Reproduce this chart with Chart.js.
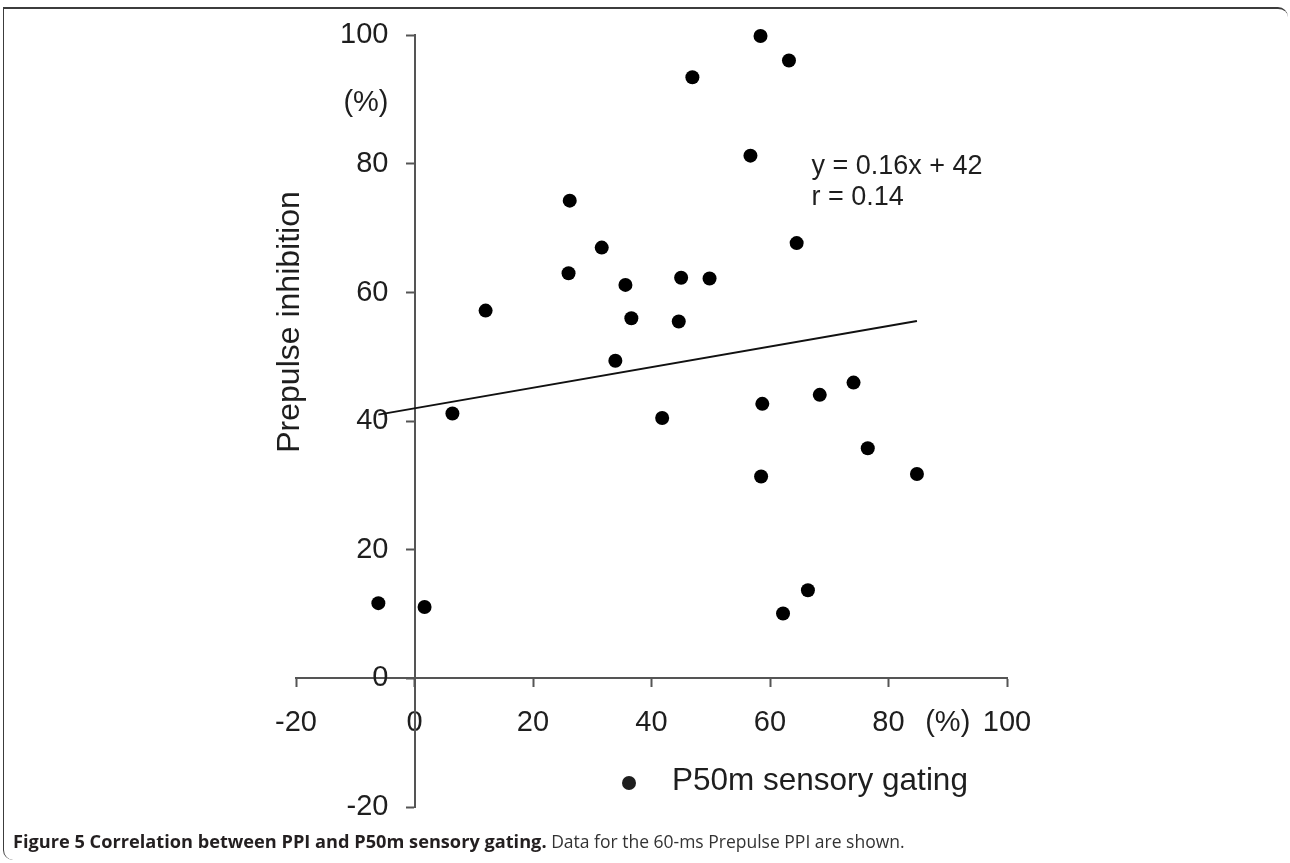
<!DOCTYPE html>
<html>
<head>
<meta charset="utf-8">
<title>PPI vs P50m sensory gating</title>
<script src="https://cdn.jsdelivr.net/npm/chart.js@4.4.1/dist/chart.umd.min.js"></script>
<style>
    html, body { margin: 0; padding: 0; background: #fff; }
    #wrap { position: relative; width: 1290px; height: 863px; overflow: hidden; }
    #frame {
        position: absolute; left: 3px; top: 7px; width: 1285px; height: 853px;
        box-sizing: border-box;
        border-top: 2px solid #3c3c3c; border-left: 1.5px solid #3c3c3c;
        border-top-right-radius: 10px; border-bottom-left-radius: 10px;
    }
    #chart-box { position: absolute; left: 0; top: 0; width: 1290px; height: 863px; }
    #caption {
        position: absolute; left: 13px; top: 829px; white-space: nowrap;
        font-family: "Open Sans", "Noto Sans", sans-serif; font-size: 17.5px; color: #333;
    }
    #caption b { font-weight: 700; font-size: 18.2px; color: #231f20; }
</style>
</head>
<body>
<div id="wrap">
    <div id="frame"></div>
    <div id="chart-box"><canvas id="ppi-chart"></canvas></div>
    <div id="caption"><b>Figure 5 Correlation between PPI and P50m sensory gating.</b> Data for the 60-ms Prepulse PPI are shown.</div>
</div>
<script>
// ===== DATA =====
const gatingX = [-6.1, 1.7, 6.4, 12.0, 26.2, 26.0, 31.6, 35.6, 36.6, 33.9, 41.8, 45.0, 44.6, 49.8,
    46.9, 58.4, 63.2, 56.7, 64.5, 58.7, 58.5, 62.2, 66.4, 68.4, 74.1, 76.5, 84.8];
const ppiY = [11.7, 11.1, 41.2, 57.2, 74.3, 63.0, 67.0, 61.2, 56.0, 49.4, 40.5, 62.3, 55.5, 62.2,
    93.5, 99.9, 96.1, 81.3, 67.7, 42.7, 31.4, 10.1, 13.7, 44.1, 46.0, 35.8, 31.8];
const xTicks = [-20, 0, 20, 40, 60, 80, 100];
const yTicks = [-20, 0, 20, 40, 60, 80, 100];
const unitLabel = '(%)';
const xUnitAt = 90;     // where the "(%)" sits on the x axis
const yUnitAt = 89.5;   // where the "(%)" sits on the y axis
const fitSlope = 0.16;
const fitIntercept = 42;
const fitR = 0.14;
const seriesName = 'P50m sensory gating';
const yTitle = 'Prepulse inhibition';

const AXIS_COLOR = '#555555';
const TEXT_COLOR = '#1e1e1e';
const FONT = '"Liberation Sans", Arial, sans-serif';
const TICK_LEN = 8;
const Y_LABEL_PAD = 18;

const scatterPoints = gatingX.map((x, i) => ({ x: x, y: ppiY[i] }));
const xMin = Math.min(...gatingX);
const xMax = Math.max(...gatingX);
const fitLine = [xMin, xMax].map(x => ({ x: x, y: fitSlope * x + fitIntercept }));

// a y axis placed at x = 0 puts its labels right on the line, push them left
const yLabelShift = {
    id: 'yLabelShift',
    beforeDraw(chart) {
        const items = chart.scales.y.getLabelItems();
        if (items._shifted) return;
        items.forEach(it => { it.options.translation[0] -= TICK_LEN + Y_LABEL_PAD; });
        items._shifted = true;
    }
};

// titles, legend and the fit equation
const extrasPlugin = {
    id: 'extras',
    afterDraw(chart) {
        const ctx = chart.ctx;
        const xs = chart.scales.x;
        const ys = chart.scales.y;
        ctx.save();
        ctx.fillStyle = TEXT_COLOR;

        // y axis title
        ctx.save();
        ctx.translate(290, 322);
        ctx.rotate(-Math.PI / 2);
        ctx.font = '32px ' + FONT;
        ctx.textAlign = 'center';
        ctx.textBaseline = 'middle';
        ctx.fillText(yTitle, 0, 0);
        ctx.restore();

        // legend
        ctx.beginPath();
        ctx.arc(629, 783, 7, 0, Math.PI * 2);
        ctx.fill();
        ctx.font = '31.5px ' + FONT;
        ctx.textAlign = 'left';
        ctx.textBaseline = 'alphabetic';
        ctx.fillText(seriesName, 672, 790);

        // fit equation
        ctx.font = '27px ' + FONT;
        const ex = xs.getPixelForValue(67);
        ctx.fillText('y = ' + fitSlope + 'x + ' + fitIntercept, ex, ys.getPixelForValue(78.5));
        ctx.fillText('r = ' + fitR, ex, ys.getPixelForValue(73.7));
        ctx.restore();
    }
};

function axisOptions(ticksList, unitAt, crossAt, padding) {
    return {
        type: 'linear',
        min: ticksList[0],
        max: ticksList[ticksList.length - 1],
        position: crossAt,
        afterBuildTicks: scale => {
            scale.ticks = ticksList.concat([unitAt]).map(v => ({ value: v }));
        },
        ticks: {
            autoSkip: false,
            maxRotation: 0,
            minRotation: 0,
            padding: padding,
            color: TEXT_COLOR,
            font: { family: FONT, size: 29 },
            callback: v => (v === unitAt ? unitLabel : String(v))
        },
        grid: {
            drawOnChartArea: false,
            drawTicks: true,
            tickLength: TICK_LEN,
            tickWidth: 2,
            tickColor: c => (c.tick && c.tick.value === unitAt ? 'rgba(0,0,0,0)' : AXIS_COLOR)
        },
        border: { display: true, color: AXIS_COLOR, width: 2 }
    };
}

function initPpiChart() {
    const ctx = document.getElementById('ppi-chart');
    new Chart(ctx, {
        type: 'scatter',
        data: {
            datasets: [
                {
                    label: seriesName,
                    data: scatterPoints,
                    pointRadius: 7,
                    pointHoverRadius: 7,
                    pointBackgroundColor: '#000',
                    pointBorderWidth: 0,
                    clip: false,
                    order: 1
                },
                {
                    type: 'line',
                    label: 'fit',
                    data: fitLine,
                    borderColor: '#111',
                    borderWidth: 2,
                    pointRadius: 0,
                    fill: false,
                    order: 2
                }
            ]
        },
        options: {
            responsive: true,
            maintainAspectRatio: false,
            animation: false,
            devicePixelRatio: 1,
            layout: { padding: { left: 296, right: 283, top: 35, bottom: 56 } },
            plugins: { legend: { display: false }, tooltip: { enabled: false } },
            scales: {
                x: axisOptions(xTicks, xUnitAt, { y: 0 }, 19),
                y: axisOptions(yTicks, yUnitAt, { x: 0 }, Y_LABEL_PAD)
            }
        },
        plugins: [yLabelShift, extrasPlugin]
    });
}

initPpiChart();
</script>
</body>
</html>
